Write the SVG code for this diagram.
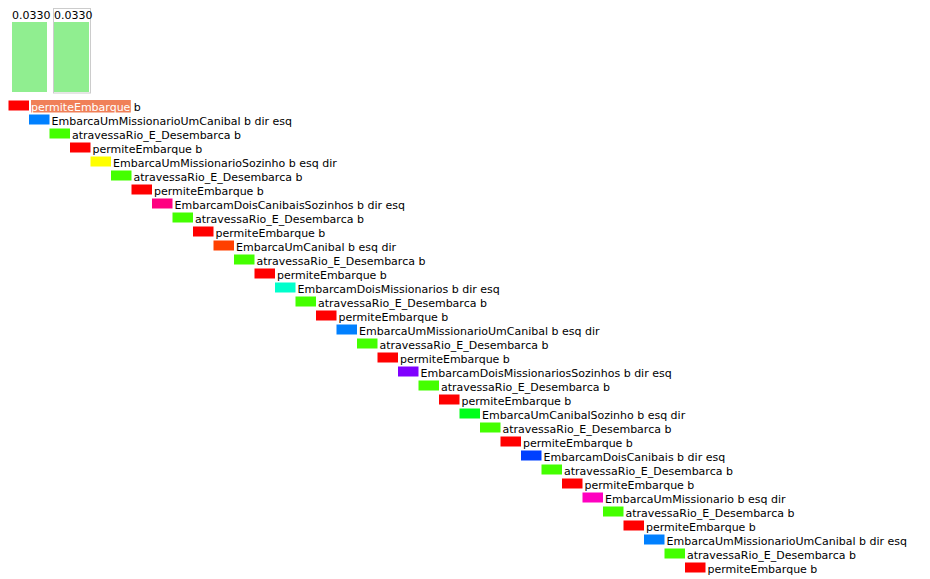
<svg xmlns="http://www.w3.org/2000/svg" width="930" height="579" viewBox="0 0 930 579">
<style>
text{font-family:"DejaVu Sans",sans-serif;font-size:11px;fill:#000}
.bar{fill:#90ee90}
.r{width:20.5px;height:10px}
.pe{fill:#ff0000}
.at{fill:#44ff00}
.hl{fill:#f08058}
</style>
<rect width="930" height="579" fill="#ffffff"/>
<g id="bar1">
<text x="12" y="19">0.0330</text>
<rect class="bar" x="12" y="22" width="35" height="70"/>
</g>
<g id="bar2">
<rect x="53.5" y="8.5" width="37" height="84.5" fill="none" stroke="#cccccc" stroke-width="1"/>
<text x="54" y="19">0.0330</text>
<rect class="bar" x="54" y="22" width="35" height="70"/>
</g>
<g id="row0" transform="translate(8.5,100.5)"><rect class="pe" width="20.5" height="10"/><rect class="hl" x="22.5" y="-0.5" width="99.8" height="12.5"/><text x="22.5" y="10"><tspan fill="#ffffff">permiteEmbarque</tspan> b</text></g>
<g id="row1" transform="translate(29,114.5)"><rect fill="#0080ff" width="20.5" height="10"/><text x="22.5" y="10">EmbarcaUmMissionarioUmCanibal b dir esq</text></g>
<g id="row2" transform="translate(49.5,128.5)"><rect class="at" width="20.5" height="10"/><text x="22.5" y="10">atravessaRio_E_Desembarca b</text></g>
<g id="row3" transform="translate(70,142.5)"><rect class="pe" width="20.5" height="10"/><text x="22.5" y="10">permiteEmbarque b</text></g>
<g id="row4" transform="translate(90.5,156.5)"><rect fill="#ffff00" width="20.5" height="10"/><text x="22.5" y="10">EmbarcaUmMissionarioSozinho b esq dir</text></g>
<g id="row5" transform="translate(111,170.5)"><rect class="at" width="20.5" height="10"/><text x="22.5" y="10">atravessaRio_E_Desembarca b</text></g>
<g id="row6" transform="translate(131.5,184.5)"><rect class="pe" width="20.5" height="10"/><text x="22.5" y="10">permiteEmbarque b</text></g>
<g id="row7" transform="translate(152,198.5)"><rect fill="#ff0080" width="20.5" height="10"/><text x="22.5" y="10">EmbarcamDoisCanibaisSozinhos b dir esq</text></g>
<g id="row8" transform="translate(172.5,212.5)"><rect class="at" width="20.5" height="10"/><text x="22.5" y="10">atravessaRio_E_Desembarca b</text></g>
<g id="row9" transform="translate(193,226.5)"><rect class="pe" width="20.5" height="10"/><text x="22.5" y="10">permiteEmbarque b</text></g>
<g id="row10" transform="translate(213.5,240.5)"><rect fill="#ff4000" width="20.5" height="10"/><text x="22.5" y="10">EmbarcaUmCanibal b esq dir</text></g>
<g id="row11" transform="translate(234,254.5)"><rect class="at" width="20.5" height="10"/><text x="22.5" y="10">atravessaRio_E_Desembarca b</text></g>
<g id="row12" transform="translate(254.5,268.5)"><rect class="pe" width="20.5" height="10"/><text x="22.5" y="10">permiteEmbarque b</text></g>
<g id="row13" transform="translate(275,282.5)"><rect fill="#00ffcc" width="20.5" height="10"/><text x="22.5" y="10">EmbarcamDoisMissionarios b dir esq</text></g>
<g id="row14" transform="translate(295.5,296.5)"><rect class="at" width="20.5" height="10"/><text x="22.5" y="10">atravessaRio_E_Desembarca b</text></g>
<g id="row15" transform="translate(316,310.5)"><rect class="pe" width="20.5" height="10"/><text x="22.5" y="10">permiteEmbarque b</text></g>
<g id="row16" transform="translate(336.5,324.5)"><rect fill="#0080ff" width="20.5" height="10"/><text x="22.5" y="10">EmbarcaUmMissionarioUmCanibal b esq dir</text></g>
<g id="row17" transform="translate(357,338.5)"><rect class="at" width="20.5" height="10"/><text x="22.5" y="10">atravessaRio_E_Desembarca b</text></g>
<g id="row18" transform="translate(377.5,352.5)"><rect class="pe" width="20.5" height="10"/><text x="22.5" y="10">permiteEmbarque b</text></g>
<g id="row19" transform="translate(398,366.5)"><rect fill="#8000ff" width="20.5" height="10"/><text x="22.5" y="10">EmbarcamDoisMissionariosSozinhos b dir esq</text></g>
<g id="row20" transform="translate(418.5,380.5)"><rect class="at" width="20.5" height="10"/><text x="22.5" y="10">atravessaRio_E_Desembarca b</text></g>
<g id="row21" transform="translate(439,394.5)"><rect class="pe" width="20.5" height="10"/><text x="22.5" y="10">permiteEmbarque b</text></g>
<g id="row22" transform="translate(459.5,408.5)"><rect fill="#00ff1a" width="20.5" height="10"/><text x="22.5" y="10">EmbarcaUmCanibalSozinho b esq dir</text></g>
<g id="row23" transform="translate(480,422.5)"><rect class="at" width="20.5" height="10"/><text x="22.5" y="10">atravessaRio_E_Desembarca b</text></g>
<g id="row24" transform="translate(500.5,436.5)"><rect class="pe" width="20.5" height="10"/><text x="22.5" y="10">permiteEmbarque b</text></g>
<g id="row25" transform="translate(521,450.5)"><rect fill="#0040ff" width="20.5" height="10"/><text x="22.5" y="10">EmbarcamDoisCanibais b dir esq</text></g>
<g id="row26" transform="translate(541.5,464.5)"><rect class="at" width="20.5" height="10"/><text x="22.5" y="10">atravessaRio_E_Desembarca b</text></g>
<g id="row27" transform="translate(562,478.5)"><rect class="pe" width="20.5" height="10"/><text x="22.5" y="10">permiteEmbarque b</text></g>
<g id="row28" transform="translate(582.5,492.5)"><rect fill="#ff00c0" width="20.5" height="10"/><text x="22.5" y="10">EmbarcaUmMissionario b esq dir</text></g>
<g id="row29" transform="translate(603,506.5)"><rect class="at" width="20.5" height="10"/><text x="22.5" y="10">atravessaRio_E_Desembarca b</text></g>
<g id="row30" transform="translate(623.5,520.5)"><rect class="pe" width="20.5" height="10"/><text x="22.5" y="10">permiteEmbarque b</text></g>
<g id="row31" transform="translate(644,534.5)"><rect fill="#0080ff" width="20.5" height="10"/><text x="22.5" y="10">EmbarcaUmMissionarioUmCanibal b dir esq</text></g>
<g id="row32" transform="translate(664.5,548.5)"><rect class="at" width="20.5" height="10"/><text x="22.5" y="10">atravessaRio_E_Desembarca b</text></g>
<g id="row33" transform="translate(685,562.5)"><rect class="pe" width="20.5" height="10"/><text x="22.5" y="10">permiteEmbarque b</text></g>
</svg>
